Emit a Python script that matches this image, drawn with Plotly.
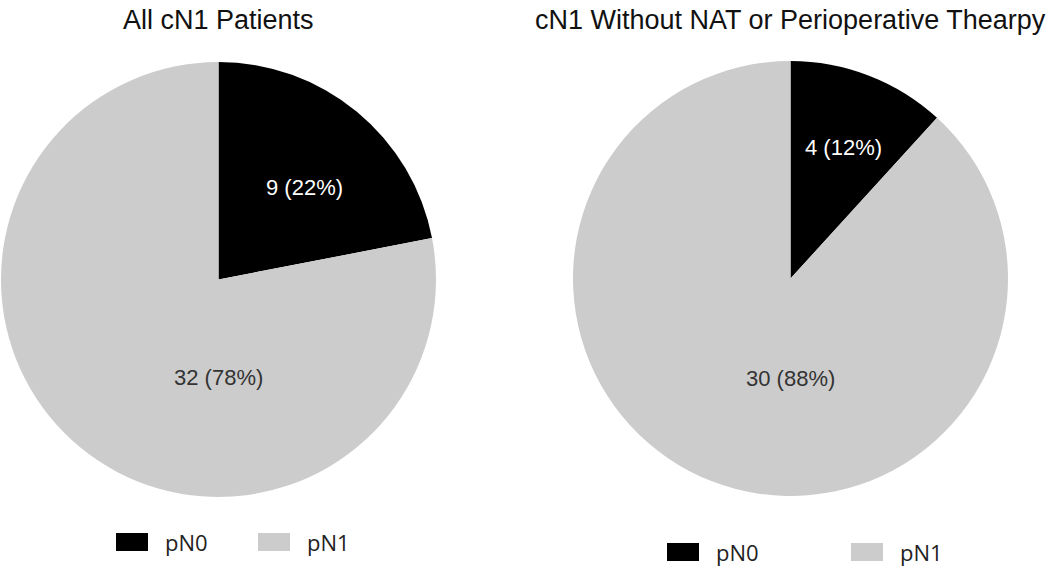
import math
import plotly.graph_objects as go

# data
categories = ['pN0', 'pN1']
colors = ['#000000', '#cccccc']
titles = ['All cN1 Patients', 'cN1 Without NAT or Perioperative Thearpy']
counts_all = [9, 32]
counts_no_nat = [4, 30]

W, H = 1050, 568

# pie geometry in pixels: (centre x, centre y from top, radius)
pies = [(218.5, 279.5, 217.5), (790.5, 278.5, 217.5)]
# label placement (fraction of radius, angle clockwise from 12 o'clock) for pN0, pN1
label_pos = [[(0.58, 43), (0.45, 180)], [(0.65, 22), (0.46, 180)]]
legend_rows = [(542, [116, 258]), (552, [667, 851])]

fig = go.Figure()
for i, counts in enumerate([counts_all, counts_no_nat]):
    cx, cy, r = pies[i]
    fig.add_trace(go.Pie(
        labels=categories, values=counts, sort=False, direction='clockwise',
        marker=dict(colors=colors, line=dict(width=0)),
        textinfo='none', hoverinfo='label+value+percent', showlegend=False,
        domain=dict(x=[(cx - r) / W, (cx + r) / W],
                    y=[(H - cy - r) / H, (H - cy + r) / H]),
    ))
    total = sum(counts)
    for j, v in enumerate(counts):
        rf, ang = label_pos[i][j]
        a = math.radians(ang)
        fig.add_annotation(
            x=(cx + rf * r * math.sin(a)) / W, y=(H - cy + rf * r * math.cos(a)) / H,
            xref='paper', yref='paper', showarrow=False,
            xanchor='center', yanchor='middle',
            text=f'{v} ({round(100 * v / total)}%)',
            font=dict(family='Liberation Sans, Arial', size=22,
                      color='white' if j == 0 else '#333333'))
    # title
    fig.add_annotation(x=cx / W, y=1 - 20 / H, xref='paper', yref='paper', showarrow=False,
                       text=titles[i], xanchor='center', yanchor='middle',
                       font=dict(family='Liberation Sans, Arial', size=27, color='#111111'))
    # legend
    ly, xs = legend_rows[i]
    for k, cat in enumerate(categories):
        x0 = xs[k]
        fig.add_shape(type='rect', xref='paper', yref='paper',
                      x0=x0 / W, x1=(x0 + 32) / W, y0=(H - ly - 9) / H, y1=(H - ly + 9) / H,
                      fillcolor=colors[k], line=dict(width=0))
        fig.add_annotation(x=(x0 + 47) / W, y=(H - ly) / H, xref='paper', yref='paper',
                           showarrow=False, xanchor='left', yanchor='middle', text=cat,
                           font=dict(family='Open Sans, Noto Sans', size=22, color='#222222'))

fig.update_layout(width=W, height=H, margin=dict(l=0, r=0, t=0, b=0),
                  paper_bgcolor='white', plot_bgcolor='white')
fig.write_html('out.html', config={'displayModeBar': False},
               post_script="document.body.style.margin='0';")
